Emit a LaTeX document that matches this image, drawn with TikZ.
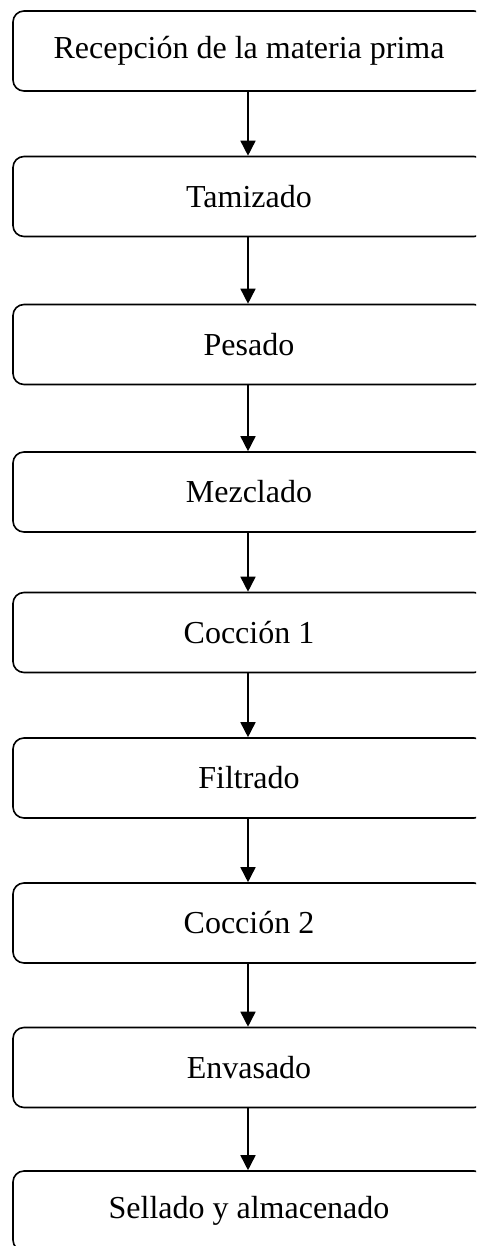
\documentclass[tikz,border=0pt]{standalone}
\usepackage{fontspec}
\setmainfont{Liberation Serif}
\usetikzlibrary{arrows.meta}
\begin{document}
\begin{tikzpicture}[x=1pt,y=1pt,
  stepbox/.style={draw, line width=1.6pt, rounded corners=11pt,
    minimum width=472pt, minimum height=80pt, inner sep=0pt,
    font=\fontsize{32}{38}\selectfont},
  flow/.style={line width=1.6pt, -{Triangle[width=15pt,length=15pt]}}]
  \clip (0,0) rectangle (476,-1246);
  \node[stepbox] (s1) at (249,-51)     {Recepción de la materia prima};
  \node[stepbox] (s2) at (249,-196.5)  {Tamizado};
  \node[stepbox] (s3) at (249,-344.5)  {Pesado};
  \node[stepbox] (s4) at (249,-492)    {Mezclado};
  \node[stepbox] (s5) at (249,-632.5)  {Cocción 1};
  \node[stepbox] (s6) at (249,-778)    {Filtrado};
  \node[stepbox] (s7) at (249,-923)    {Cocción 2};
  \node[stepbox] (s8) at (249,-1067.5) {Envasado};
  \node[stepbox] (s9) at (249,-1211)   {Sellado y almacenado};
  \foreach \a/\b in {s1/s2,s2/s3,s3/s4,s4/s5,s5/s6,s6/s7,s7/s8,s8/s9}
    \draw[flow] ([xshift=-1pt]\a.south) -- ([xshift=-1pt]\b.north);
\end{tikzpicture}
\end{document}
